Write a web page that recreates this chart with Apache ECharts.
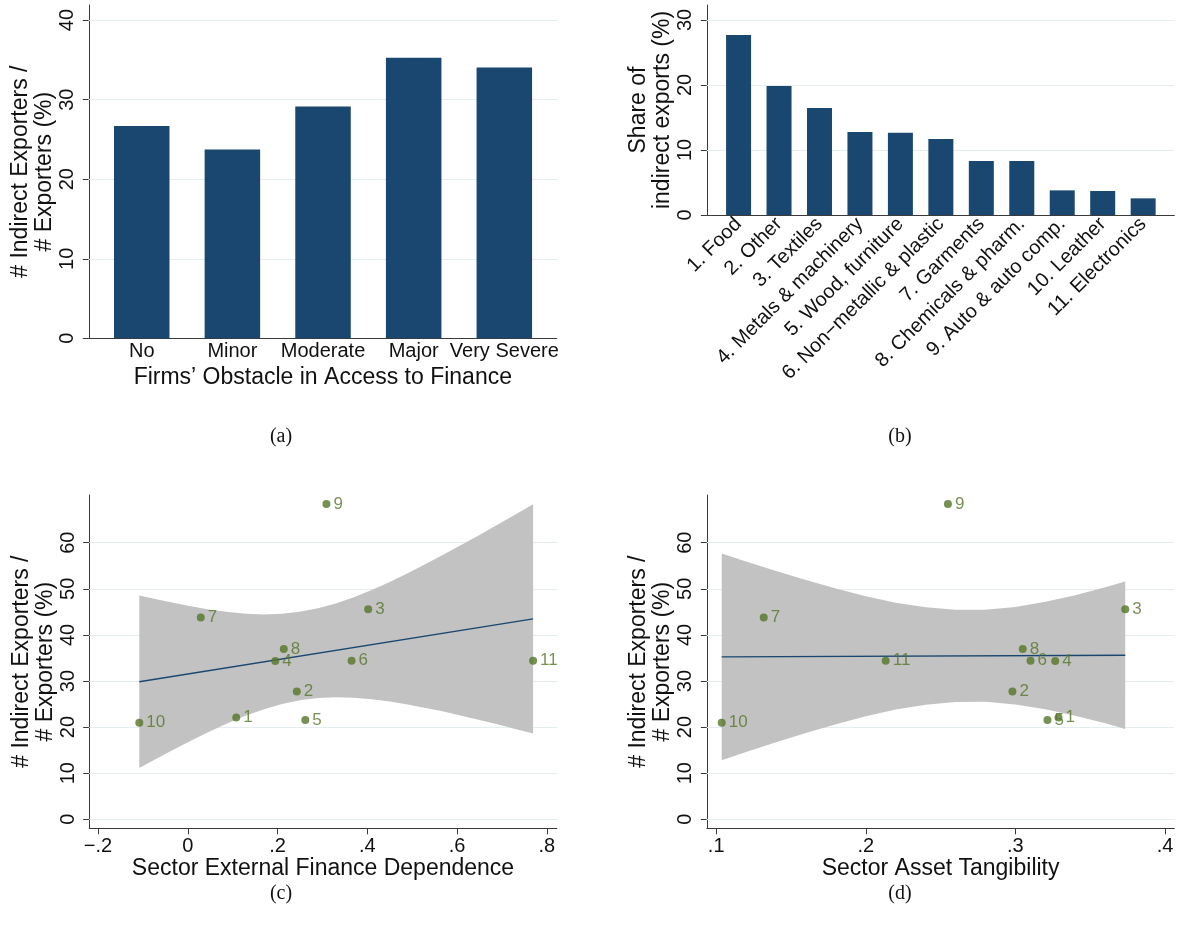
<!DOCTYPE html>
<html><head><meta charset="utf-8">
<script src="https://cdn.jsdelivr.net/npm/echarts@6/dist/echarts.min.js"></script>
<style>html,body{margin:0;padding:0;background:#fff}#c{width:1178px;height:940px}</style>
</head><body><div id="c"></div>
<script>
// ---------- data ----------
const obstacleCats = ['No', 'Minor', 'Moderate', 'Major', 'Very Severe'];
const obstacleShare = [26.7, 23.75, 29.15, 35.27, 34.05];

const sectorNames = ['1. Food', '2. Other', '3. Textiles', '4. Metals & machinery', '5. Wood, furniture',
  '6. Non\u2212metallic & plastic', '7. Garments', '8. Chemicals & pharm.', '9. Auto & auto comp.',
  '10. Leather', '11. Electronics'];
const sectorShare = [27.7, 19.85, 16.46, 12.77, 12.67, 11.69, 8.31, 8.31, 3.79, 3.69, 2.56];

const pointLabels = ['1', '2', '3', '4', '5', '6', '7', '8', '9', '10', '11'];
const sectorIndirectRatio = [22.1, 27.7, 45.55, 34.35, 21.55, 34.4, 43.75, 36.95, 68.4, 20.97, 34.4];
const sectorExtFin = [0.108, 0.243, 0.402, 0.195, 0.262, 0.365, 0.029, 0.214, 0.309, -0.108, 0.7695];
const sectorTangibility = [0.3288, 0.298, 0.3734, 0.3266, 0.3214, 0.3101, 0.1318, 0.3049, 0.2549, 0.1037, 0.2133];

// fitted lines and 95% CI bands
const fitXC = [-0.108, 0.7695];
const fitYC = [29.84, 43.49];
const ciXC = [-0.108, -0.07, -0.03, 0.01, 0.05, 0.09, 0.13, 0.17, 0.21, 0.25, 0.29, 0.33,
  0.37, 0.41, 0.45, 0.49, 0.53, 0.57, 0.61, 0.65, 0.69, 0.73, 0.7695];
const ciUpC = [48.56, 47.72, 46.90, 46.14, 45.48, 44.96, 44.59, 44.45, 44.57, 45.00, 45.76, 46.83,
  48.18, 49.75, 51.49, 53.38, 55.36, 57.42, 59.54, 61.70, 63.90, 66.14, 68.36];
const ciLoC = [11.12, 13.15, 15.22, 17.22, 19.12, 20.89, 22.50, 23.89, 25.01, 25.82, 26.31, 26.48,
  26.38, 26.05, 25.55, 24.91, 24.17, 23.36, 22.48, 21.56, 20.60, 19.61, 18.62];

const fitXD = [0.1037, 0.3734];
const fitYD = [35.24, 35.60];
const ciXD = [0.1037, 0.12, 0.14, 0.16, 0.18, 0.20, 0.22, 0.24, 0.26, 0.28, 0.30, 0.32, 0.34, 0.36, 0.3734];
const ciUpD = [57.66, 55.93, 53.87, 51.90, 50.06, 48.39, 47.00, 45.98, 45.44, 45.47, 46.08, 47.17, 48.63, 50.35, 51.60];
const ciLoD = [12.82, 14.59, 16.71, 18.74, 20.64, 22.35, 23.80, 24.87, 25.46, 25.49, 24.93, 23.89, 22.49, 20.83, 19.60];

// tick labels
const yTicksA = [0, 10, 20, 30, 40];
const yTicksB = [0, 10, 20, 30];
const yTicksCD = [0, 10, 20, 30, 40, 50, 60];
const xTicksC = [-0.2, 0, 0.2, 0.4, 0.6, 0.8];
const xTicksD = [0.1, 0.2, 0.3, 0.4];
const captions = ['(a)', '(b)', '(c)', '(d)'];

// ---------- style ----------
const FONT = 'Liberation Sans, Arial, Helvetica, sans-serif';
const NAVY = '#1a476f';
const GREEN = '#557528';
const BAND = '#c2c2c2';
const GRIDC = '#e4edf0';
const TXT = '#111';
const axisLineStyle = { color: '#3a3a3a', width: 1 };

function statFmt(v) {
  if (Math.abs(v) < 1e-9) return '0';
  let s = String(Math.round(v * 1000) / 1000);
  s = s.replace(/^(-?)0\./, '$1.');
  return s.replace('-', '\u2212');
}

function yAx(gi, min, max, ticks, name, gap) {
  return {
    type: 'value', gridIndex: gi, min: min, max: max,
    axisLine: { show: true, onZero: false, lineStyle: axisLineStyle },
    axisTick: { show: true, inside: false, length: 6, customValues: ticks, lineStyle: axisLineStyle },
    axisLabel: { customValues: ticks, rotate: 90, margin: 11, fontSize: 20, color: TXT, fontFamily: FONT },
    splitLine: { show: false },
    name: name, nameLocation: 'middle', nameGap: gap, nameRotate: 90,
    nameTextStyle: { fontSize: 23, lineHeight: 24, color: TXT, fontFamily: FONT }
  };
}

function gridMark(ticks) {
  return {
    silent: true, symbol: ['none', 'none'], z: 1,
    label: { show: false }, emphasis: { disabled: true },
    lineStyle: { color: GRIDC, width: 1, type: 'solid' },
    data: ticks.map(v => ({ yAxis: v }))
  };
}

const grids = [
  { left: 88.8, top: 5, width: 468, height: 333.3 },
  { left: 706.9, top: 5, width: 467.4, height: 210 },
  { left: 89.2, top: 495, width: 467.6, height: 333.3 },
  { left: 706.9, top: 495, width: 467.4, height: 333.3 }
].map(g => Object.assign({ containLabel: false, outerBoundsMode: 'none' }, g));

const xAxes = [
  {
    type: 'value', gridIndex: 0, min: -0.584, max: 4.579,
    axisLine: { show: true, onZero: false, lineStyle: axisLineStyle },
    axisTick: { show: false },
    axisLabel: { customValues: obstacleCats.map((c, i) => i), formatter: v => obstacleCats[Math.round(v)],
      margin: 3, fontSize: 20, color: TXT, fontFamily: FONT },
    splitLine: { show: false },
    name: 'Firms\u2019 Obstacle in Access to Finance', nameLocation: 'middle', nameGap: 28,
    nameTextStyle: { fontSize: 23, color: TXT, fontFamily: FONT }
  },
  {
    type: 'value', gridIndex: 1, min: -0.783, max: 10.77,
    axisLine: { show: true, onZero: false, lineStyle: axisLineStyle },
    axisTick: { show: false },
    axisLabel: { customValues: sectorNames.map((c, i) => i), formatter: v => sectorNames[Math.round(v)],
      rotate: 45, margin: 6, fontSize: 20, color: TXT, fontFamily: FONT },
    splitLine: { show: false }
  },
  {
    type: 'value', gridIndex: 2, min: -0.2196, max: 0.8223,
    axisLine: { show: true, onZero: false, lineStyle: axisLineStyle },
    axisTick: { show: true, length: 6, customValues: xTicksC, lineStyle: axisLineStyle },
    axisLabel: { customValues: xTicksC, formatter: statFmt, margin: 8, fontSize: 20, color: TXT, fontFamily: FONT },
    splitLine: { show: false },
    name: 'Sector External Finance Dependence', nameLocation: 'middle', nameGap: 28,
    nameTextStyle: { fontSize: 23, color: TXT, fontFamily: FONT }
  },
  {
    type: 'value', gridIndex: 3, min: 0.0938, max: 0.4062,
    axisLine: { show: true, onZero: false, lineStyle: axisLineStyle },
    axisTick: { show: true, length: 6, customValues: xTicksD, lineStyle: axisLineStyle },
    axisLabel: { customValues: xTicksD, formatter: statFmt, margin: 8, fontSize: 20, color: TXT, fontFamily: FONT },
    splitLine: { show: false },
    name: 'Sector Asset Tangibility', nameLocation: 'middle', nameGap: 28,
    nameTextStyle: { fontSize: 23, color: TXT, fontFamily: FONT }
  }
];

const yName = '# Indirect Exporters /\n# Exporters (%)';
const yAxes = [
  yAx(0, 0, 41.9, yTicksA, yName, 31),
  yAx(1, 0, 32.3, yTicksB, 'Share of\nindirect exports (%)', 32),
  yAx(2, -1.95, 70.35, yTicksCD, yName, 31),
  yAx(3, -1.95, 70.35, yTicksCD, yName, 32)
];

function scatterPanel(idx, xs, fitX, fitY, ciX, ciUp, ciLo) {
  return [
    {
      type: 'custom', xAxisIndex: idx, yAxisIndex: idx, z: 2, silent: true,
      data: ciX.map((x, i) => [x, ciUp[i], ciLo[i]]),
      encode: { x: 0, y: [1, 2] },
      renderItem: function (params, api) {
        if (params.dataIndex !== 0) return null;
        const pts = [];
        for (let i = 0; i < ciX.length; i++) pts.push(api.coord([ciX[i], ciUp[i]]));
        for (let i = ciX.length - 1; i >= 0; i--) pts.push(api.coord([ciX[i], ciLo[i]]));
        return { type: 'polygon', shape: { points: pts }, style: { fill: BAND, stroke: null } };
      }
    },
    {
      type: 'line', xAxisIndex: idx, yAxisIndex: idx, symbol: 'none', z: 3, silent: true,
      lineStyle: { color: NAVY, width: 1.4 },
      data: fitX.map((x, i) => [x, fitY[i]]),
      markLine: gridMark(yTicksCD)
    },
    {
      type: 'scatter', xAxisIndex: idx, yAxisIndex: idx, symbolSize: 8, z: 5,
      itemStyle: { color: GREEN }, emphasis: { disabled: true },
      label: { show: true, position: 'right', distance: 3, formatter: p => p.data[2],
        fontSize: 17, color: GREEN, fontFamily: FONT },
      data: xs.map((x, i) => [x, sectorIndirectRatio[i], pointLabels[i]])
    }
  ];
}

const series = [
  {
    type: 'bar', xAxisIndex: 0, yAxisIndex: 0, barWidth: 55.5, z: 2,
    itemStyle: { color: NAVY }, emphasis: { disabled: true },
    data: obstacleShare.map((v, i) => [i, v]),
    markLine: gridMark(yTicksA.filter(v => v > 0))
  },
  {
    type: 'bar', xAxisIndex: 1, yAxisIndex: 1, barWidth: 25, z: 2,
    itemStyle: { color: NAVY }, emphasis: { disabled: true },
    data: sectorShare.map((v, i) => [i, v]),
    markLine: gridMark(yTicksB.filter(v => v > 0))
  }
].concat(
  scatterPanel(2, sectorExtFin, fitXC, fitYC, ciXC, ciUpC, ciLoC),
  scatterPanel(3, sectorTangibility, fitXD, fitYD, ciXD, ciUpD, ciLoD)
);

const capPos = [[281, 427], [900, 427], [281, 884], [900, 884]];
const titles = captions.map((t, i) => ({
  text: t, left: capPos[i][0], top: capPos[i][1], textAlign: 'center', padding: 0,
  textStyle: { fontFamily: 'Liberation Serif, DejaVu Serif, serif', fontSize: 20, fontWeight: 'normal', color: TXT }
}));

const chart = echarts.init(document.getElementById('c'), null, { renderer: 'canvas' });
chart.setOption({
  animation: false,
  backgroundColor: '#fff',
  title: titles,
  grid: grids,
  xAxis: xAxes,
  yAxis: yAxes,
  series: series
});
</script></body></html>
